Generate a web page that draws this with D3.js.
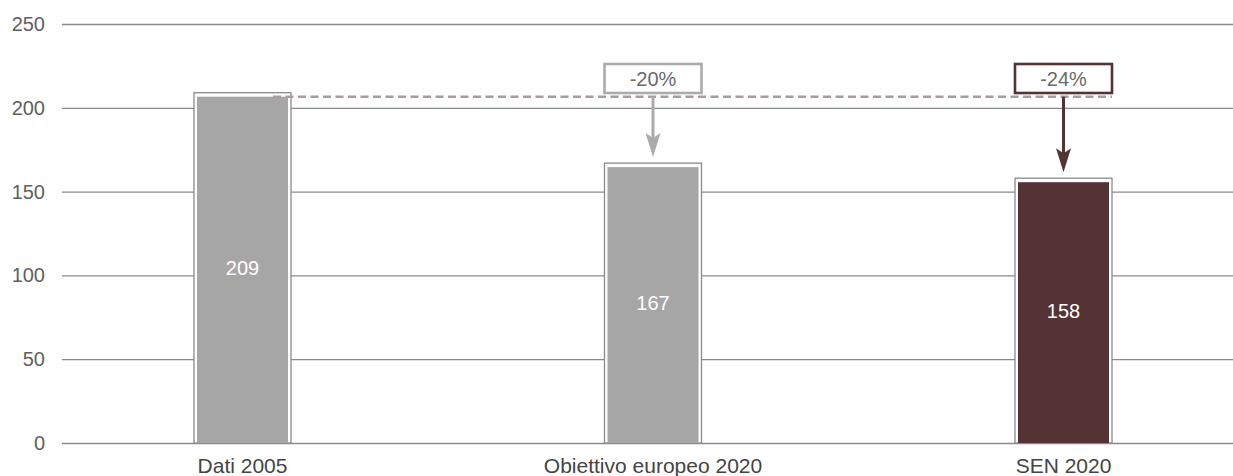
<!DOCTYPE html>
<html>
<head>
<meta charset="utf-8">
<script src="https://cdn.jsdelivr.net/npm/d3@7"></script>
<style>
  html, body { margin: 0; padding: 0; background: #fff; }
  svg { display: block; font-family: "Liberation Sans", Arial, sans-serif; }
</style>
</head>
<body>
<svg id="chart" width="1233" height="476"></svg>
<script>
// Emissions: 2005 level, EU 2020 target, SEN 2020 scenario
const categories = ["Dati 2005", "Obiettivo europeo 2020", "SEN 2020"];
const values = [209, 167, 158];
const changeLabels = [null, "-20%", "-24%"];
const yTicks = [0, 50, 100, 150, 200, 250];

const barColors = ["#a6a6a6", "#a6a6a6", "#553335"];
const accentColors = [null, "#ababab", "#553335"];
const gridColor = "#8a8a8a";
const textColor = "#5f5f5f";

const W = 1233, H = 476;
const plotLeft = 62, plotRight = 1233;

const svg = d3.select("#chart");

const y = d3.scaleLinear().domain([0, 250]).range([443, 24]);
const x = d3.scaleBand()
  .domain(categories)
  .range([37.25, 37.25 + 3 * 410.5])
  .paddingInner(0.7637)
  .paddingOuter(0.7637 / 2);

// Horizontal grid with value labels
const yAxis = d3.axisLeft(y)
  .tickValues(yTicks)
  .tickSize(-(plotRight - plotLeft))
  .tickPadding(17)
  .tickFormat(d3.format("d"));

const gy = svg.append("g")
  .attr("transform", `translate(${plotLeft},0)`)
  .call(yAxis);
gy.select(".domain").remove();
gy.selectAll(".tick line").attr("stroke", gridColor).attr("stroke-width", 1.3);
gy.selectAll(".tick text")
  .attr("fill", textColor)
  .style("font-size", "20px")
  .style("font-family", "'Liberation Sans', Arial, sans-serif");

// Category labels under the baseline
const xAxis = d3.axisBottom(x).tickSize(0).tickPadding(15);
const gx = svg.append("g")
  .attr("transform", `translate(0,${y(0)})`)
  .call(xAxis);
gx.select(".domain").remove();
gx.selectAll(".tick text")
  .attr("fill", "#444")
  .style("font-size", "21px")
  .style("font-family", "'Liberation Sans', Arial, sans-serif");

// Bars: framed outline with an inset fill
const inset = 3;
const bars = svg.append("g").selectAll("g")
  .data(categories)
  .join("g");

bars.append("rect")
  .attr("x", d => x(d))
  .attr("y", (d, i) => y(values[i]))
  .attr("width", x.bandwidth())
  .attr("height", (d, i) => y(0) - y(values[i]))
  .attr("fill", "#fff")
  .attr("stroke", gridColor)
  .attr("stroke-width", 1.3);

bars.append("rect")
  .attr("x", d => x(d) + inset)
  .attr("y", (d, i) => y(values[i]) + inset + 1)
  .attr("width", x.bandwidth() - 2 * inset)
  .attr("height", (d, i) => y(0) - y(values[i]) - inset - 1)
  .attr("fill", (d, i) => barColors[i]);

bars.append("text")
  .attr("x", d => x(d) + x.bandwidth() / 2)
  .attr("y", (d, i) => (y(values[i]) + y(0)) / 2)
  .attr("dy", "0.35em")
  .attr("text-anchor", "middle")
  .attr("fill", "#fff")
  .style("font-size", "20px")
  .text((d, i) => values[i]);

// Reference level of 2005 carried across the chart
const refY = y(values[0]) + inset + 1;
const last = categories[categories.length - 1];
svg.append("line")
  .attr("x1", x(categories[0]) + x.bandwidth() - 18)
  .attr("x2", x(last) + x.bandwidth())
  .attr("y1", refY)
  .attr("y2", refY)
  .attr("stroke", "#a89c9d")
  .attr("stroke-width", 2.6)
  .attr("stroke-dasharray", "8,4.5");

// Reduction arrows and percentage boxes
const notes = svg.append("g").selectAll("g")
  .data(categories.map((c, i) => ({ c, i })).filter(d => changeLabels[d.i]))
  .join("g");

const boxTop = 64, boxH = 29;
notes.append("rect")
  .attr("x", d => x(d.c))
  .attr("y", boxTop)
  .attr("width", x.bandwidth())
  .attr("height", boxH)
  .attr("fill", "#fff")
  .attr("stroke", d => accentColors[d.i])
  .attr("stroke-width", 2.6);

notes.append("text")
  .attr("x", d => x(d.c) + x.bandwidth() / 2)
  .attr("y", boxTop + boxH / 2)
  .attr("dy", "0.36em")
  .attr("text-anchor", "middle")
  .attr("fill", "#6a6a6a")
  .style("font-size", "20px")
  .text(d => changeLabels[d.i]);

const headLen = 24, headHalf = 7.5, notch = 5, tipGap = 6;
notes.append("line")
  .attr("x1", d => x(d.c) + x.bandwidth() / 2)
  .attr("x2", d => x(d.c) + x.bandwidth() / 2)
  .attr("y1", refY)
  .attr("y2", d => y(values[d.i]) - tipGap - headLen + notch + 1)
  .attr("stroke", d => accentColors[d.i])
  .attr("stroke-width", 3);

notes.append("path")
  .attr("d", d => {
    const cx = x(d.c) + x.bandwidth() / 2;
    const tip = y(values[d.i]) - tipGap;
    return `M${cx - headHalf},${tip - headLen} L${cx},${tip - headLen + notch} L${cx + headHalf},${tip - headLen} L${cx},${tip} Z`;
  })
  .attr("fill", d => accentColors[d.i]);
</script>
</body>
</html>
